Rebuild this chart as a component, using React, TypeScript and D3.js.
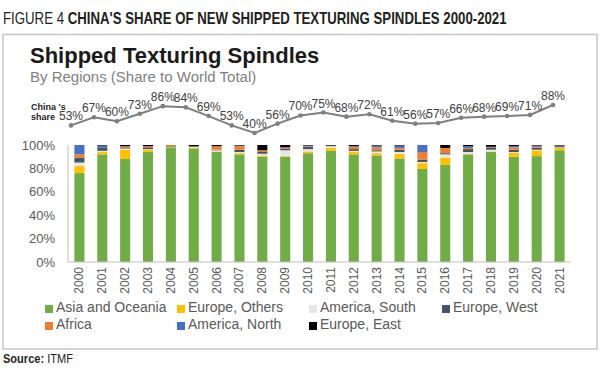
import * as d3 from "d3"
import { useLayoutEffect, useRef, useState } from "react"

const years = ["2000", "2001", "2002", "2003", "2004", "2005", "2006", "2007", "2008", "2009", "2010", "2011", "2012", "2013", "2014", "2015", "2016", "2017", "2018", "2019", "2020", "2021"]

// stacked shares (%), bottom to top
const asiaOceania = [76, 92, 88, 94, 98, 97, 94, 92, 90, 90, 93, 95, 92, 91, 88.5, 79.5, 83, 92, 94, 90, 90.5, 95.5]
const europeOthers = [6, 2, 8, 2, 0.5, 1, 0.5, 1, 1, 0.5, 1.5, 2.5, 2.5, 2, 4, 5, 6, 0.5, 0.5, 3.5, 5, 2]
const americaSouth = [3, 1, 1, 0.5, 0, 0.5, 1, 1, 1.5, 5, 2, 1.5, 0.5, 1.5, 1.5, 1, 3, 1.5, 1.5, 0.5, 0.5, 0.5]
const europeWest = [4, 3, 1, 1.5, 0.5, 0.5, 0.5, 2, 1.5, 1.5, 2, 0.5, 1.5, 1, 2, 2, 1, 2.5, 2, 2, 1.5, 1]
const africa = [3, 0, 1, 1, 1, 0, 3, 3, 1.5, 1, 0.5, 0, 2, 2.5, 1.5, 6.5, 4.5, 1, 0.5, 2, 1, 0.5]
const americaNorth = [8, 1.5, 0, 0, 0, 0, 0, 0.5, 0, 0, 0.5, 0, 0.5, 1.5, 2, 6, 0, 1.5, 0, 1, 1, 0]
const europeEast = [0, 0.5, 1, 1, 0, 1, 1, 0.5, 4.5, 2, 0.5, 0.5, 1, 0.5, 0.5, 0, 2.5, 1, 1.5, 1, 0.5, 0.5]

const chinaShare = [53, 67, 60, 73, 86, 84, 69, 53, 40, 56, 70, 75, 68, 72, 61, 56, 57, 66, 68, 69, 71, 88]

const yTicks = [0, 20, 40, 60, 80, 100]

const series = [
  { key: "Asia and Oceania", values: asiaOceania, color: "#70ad47" },
  { key: "Europe, Others", values: europeOthers, color: "#ffc000" },
  { key: "America, South", values: americaSouth, color: "#e7e6e6" },
  { key: "Europe, West", values: europeWest, color: "#44546a" },
  { key: "Africa", values: africa, color: "#ed7d31" },
  { key: "America, North", values: americaNorth, color: "#4472c4" },
  { key: "Europe, East", values: europeEast, color: "#000000" },
]

const W = 602
const H = 369
const font = "'Liberation Sans', Arial, sans-serif"

// no narrow font is installed: draw normally, then squeeze the group to the target width
function Condensed({ x, y, width, children }: { x: number; y: number; width: number; children: any }) {
  const ref = useRef<SVGGElement>(null)
  const [k, setK] = useState(1)
  useLayoutEffect(() => {
    if (!ref.current) return
    const w = ref.current.getBBox().width
    if (w > 0) setK(width / w)
  }, [width])
  return (
    <g transform={`translate(${x},${y}) scale(${k},1)`}>
      <g ref={ref}>{children}</g>
    </g>
  )
}

export default function App() {
  const plot = { left: 68, right: 571, top: 145, bottom: 262 }

  const x = d3.scaleBand().domain(years).range([plot.left, plot.right]).paddingInner(0.56).paddingOuter(0.28)
  const y = d3.scaleLinear().domain([0, 100]).range([plot.bottom, plot.top])

  // the share line sits on its own scale above the bars
  const xl = d3.scalePoint().domain(years).range([71, 553])
  const yl = d3.scaleLinear().domain([0, 100]).range([156.3, 98])

  const table = years.map((yr, i) => {
    const row: Record<string, any> = { year: yr }
    series.forEach((s) => (row[s.key] = s.values[i]))
    return row
  })
  const stacked = d3.stack<any>().keys(series.map((s) => s.key))(table)

  const line = d3
    .line<number>()
    .x((_, i) => xl(years[i]) ?? 0)
    .y((d) => yl(d))

  const legendCols = [45, 177, 309, 442]

  return (
    <svg width={W} height={H} style={{ position: "absolute", left: 0, top: 0 }}>
      <rect width={W} height={H} fill="#fff" />
      <Condensed x={3} y={24} width={504}>
        <text fontFamily={font} fontSize={16} fill="#231f20">
          <tspan>FIGURE 4 </tspan>
          <tspan fontWeight="bold">CHINA'S SHARE OF NEW SHIPPED TEXTURING SPINDLES 2000-2021</tspan>
        </text>
      </Condensed>
      <rect x={3} y={34.5} width={594} height={314.5} fill="none" stroke="#c6c6c6" strokeWidth={1.5} />

      <text x={30} y={63} fontFamily={font} fontSize={22} fontWeight="bold" fill="#1a1a1a">
        Shipped Texturing Spindles
      </text>
      <text x={30} y={82} fontFamily={font} fontSize={15} fill="#7f7f7f">
        By Regions (Share to World Total)
      </text>

      <text fontFamily={font} fontSize={9} fontWeight="bold" fill="#262626">
        <tspan x={31} y={110}>China 's</tspan>
        <tspan x={31} y={120}>share</tspan>
      </text>

      <path d={line(chinaShare) ?? ""} fill="none" stroke="#7f7f7f" strokeWidth={2} />
      {chinaShare.map((v, i) => (
        <g key={years[i]}>
          <circle cx={xl(years[i])} cy={yl(v)} r={2.3} fill="#7f7f7f" />
          <text
            x={xl(years[i])}
            y={yl(v) - 5}
            textAnchor="middle"
            fontFamily={font}
            fontSize={12}
            fill="#404040"
          >
            {v}%
          </text>
        </g>
      ))}

      {stacked.map((layer, si) => (
        <g key={layer.key} fill={series[si].color}>
          {layer.map((d, i) => (
            <rect
              key={years[i]}
              x={x(years[i])}
              y={y(d[1])}
              width={x.bandwidth()}
              height={Math.max(0, y(d[0]) - y(d[1]))}
            />
          ))}
        </g>
      ))}

      <line x1={plot.left} x2={plot.left} y1={plot.top} y2={plot.bottom} stroke="#bfbfbf" />
      <line x1={plot.left} x2={plot.right} y1={plot.bottom} y2={plot.bottom} stroke="#bfbfbf" />
      {yTicks.map((t) => (
        <text key={t} x={55} y={y(t) + 4.5} textAnchor="end" fontFamily={font} fontSize={13} fill="#595959">
          {t}%
        </text>
      ))}
      {years.map((yr) => (
        <text
          key={yr}
          transform={`translate(${(x(yr) ?? 0) + x.bandwidth() / 2 + 4},${plot.bottom + 5}) rotate(-90)`}
          textAnchor="end"
          fontFamily={font}
          fontSize={12}
          fill="#595959"
        >
          {yr}
        </text>
      ))}

      {series.map((s, i) => {
        const col = legendCols[i % 4]
        const row = Math.floor(i / 4)
        const ty = 312 + row * 17
        return (
          <g key={s.key}>
            <rect x={col} y={ty - 7} width={8} height={8} fill={s.color} />
            <text x={col + 11} y={ty} fontFamily={font} fontSize={14} fill="#595959">
              {s.key}
            </text>
          </g>
        )
      })}

      <Condensed x={3} y={363} width={70}>
        <text fontFamily={font} fontSize={13} fill="#231f20">
          <tspan fontWeight="bold">Source:</tspan>
          <tspan> ITMF</tspan>
        </text>
      </Condensed>
    </svg>
  )
}
